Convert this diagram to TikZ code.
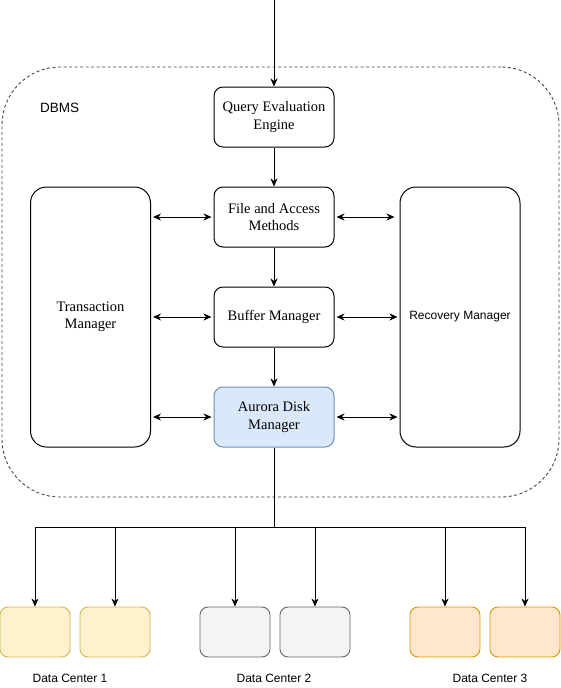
\documentclass[tikz,border=0pt]{standalone}
\usepackage{fontspec}
\setmainfont{Liberation Serif}
\setsansfont{Liberation Sans}
\usetikzlibrary{arrows.meta}
\definecolor{blfill}{HTML}{DAE8FC}
\definecolor{bldraw}{HTML}{6C8EBF}
\definecolor{yfill}{HTML}{FFF2CC}
\definecolor{ydraw}{HTML}{D6B656}
\definecolor{gfill}{HTML}{F5F5F5}
\definecolor{gdraw}{HTML}{666666}
\definecolor{ofill}{HTML}{FFE6CC}
\definecolor{odraw}{HTML}{D79B00}
\definecolor{dashc}{HTML}{444444}
\begin{document}
\begin{tikzpicture}[x=1pt,y=1pt,
  box/.style={draw,rounded corners=9pt,line width=1pt,minimum width=120pt,minimum height=60pt,inner sep=0pt,align=center,font=\fontsize{14.5}{17.4}\selectfont},
  tall/.style={draw,rounded corners=16pt,line width=1pt,minimum width=120pt,minimum height=260pt,inner sep=0pt,align=center},
  dc/.style={draw,rounded corners=8pt,line width=0.9pt,minimum width=70pt,minimum height=50pt,inner sep=0pt},
  tip/.tip={Stealth[length=8pt,width=7pt,inset=2.5pt]},
  arr/.style={-tip,line width=1pt},
  barr/.style={tip-tip,line width=1pt},
  lbl/.style={font=\sffamily\fontsize{12}{14}\selectfont}
]
\useasboundingbox (0,0) rectangle (561,-688);

% container
\node[draw=dashc,dashed,dash pattern=on 3pt off 2.5pt,line width=0.9pt,rounded corners=58pt,minimum width=557pt,minimum height=430pt,inner sep=0pt] (dbms) at (280.5,-282) {};
\node[font=\sffamily\fontsize{13.5}{16}\selectfont,anchor=west,inner sep=0pt] (dbmsl) at (40,-108) {DBMS};

% central stack
\node[box] (qee) at (274,-117) {Query Evaluation\\Engine};
\node[box] (fam) at (274,-217) {File and Access\\Methods};
\node[box] (bm) at (274,-317) {Buffer Manager};
\node[box,fill=blfill,draw=bldraw] (adm) at (274,-417) {Aurora Disk\\Manager};

% side managers
\node[tall,font=\fontsize{14.5}{17.4}\selectfont] (tm) at (90.5,-317) {Transaction\\Manager};
\node[tall,lbl] (rm) at (460,-317) {Recovery Manager};

% vertical flow
\coordinate (in) at (274,0);
\draw[arr] (in) -- (qee);
\draw[arr] (qee) -- (fam);
\draw[arr] (fam) -- (bm);
\draw[arr] (bm) -- (adm);

% horizontal bidirectional
\draw[barr,shorten <=2pt,shorten >=2pt] (tm.east |- fam.west) -- (fam.west);
\draw[barr,shorten <=2pt,shorten >=2pt] (tm.east |- bm.west) -- (bm.west);
\draw[barr,shorten <=2pt,shorten >=2pt] (tm.east |- adm.west) -- (adm.west);
\draw[barr,shorten <=2pt,shorten >=5pt] (fam.east) -- (rm.west |- fam.east);
\draw[barr,shorten <=2pt,shorten >=2pt] (bm.east) -- (rm.west |- bm.east);
\draw[barr,shorten <=2pt,shorten >=2pt] (adm.east) -- (rm.west |- adm.east);

% data centers
\node[dc,fill=yfill,draw=ydraw] (d1a) at (35,-632) {};
\node[dc,fill=yfill,draw=ydraw] (d1b) at (115,-632) {};
\node[dc,fill=gfill,draw=gdraw] (d2a) at (235,-632) {};
\node[dc,fill=gfill,draw=gdraw] (d2b) at (315,-632) {};
\node[dc,fill=ofill,draw=odraw] (d3a) at (445,-632) {};
\node[dc,fill=ofill,draw=odraw] (d3b) at (525,-632) {};

\node[lbl] (l1) at (70,-678) {Data Center 1};
\node[lbl] (l2) at (274,-678) {Data Center 2};
\node[lbl] (l3) at (490,-678) {Data Center 3};

% bus
\coordinate (bus) at (274,-527);
\draw[line width=1pt] (adm) -- (bus);
\foreach \n in {d1a,d1b,d2a,d2b,d3a,d3b}
  \draw[arr] (bus) -| (\n.north);
\end{tikzpicture}
\end{document}
